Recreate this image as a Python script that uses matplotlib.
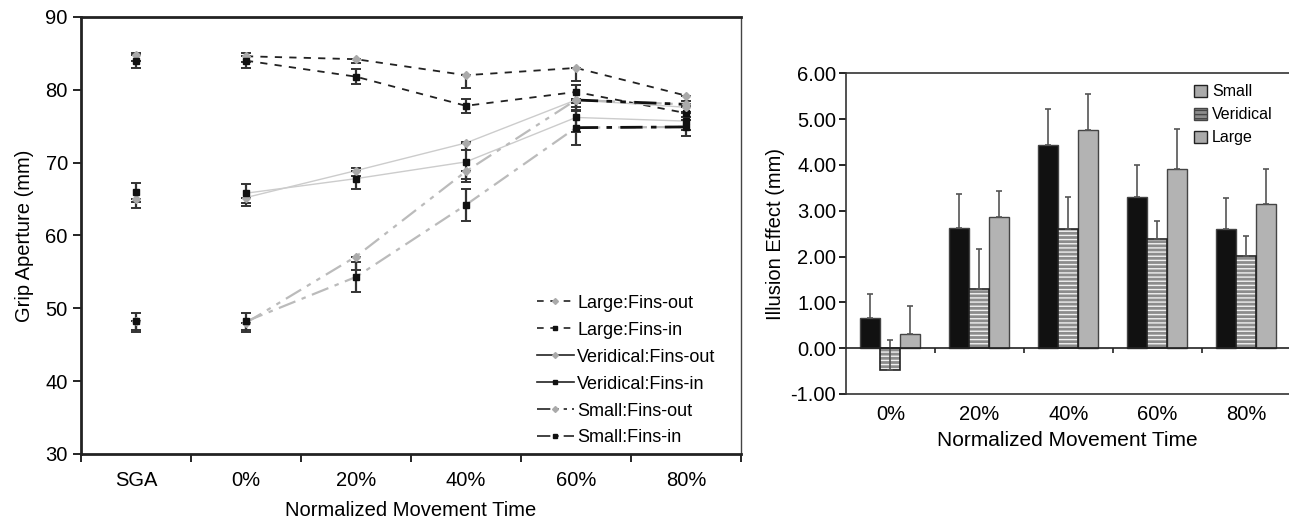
import numpy as np
import matplotlib
matplotlib.use('Agg')
import matplotlib.pyplot as plt
from matplotlib.lines import Line2D
from matplotlib.patches import Patch

plt.rcParams['font.family'] = ['Liberation Sans', 'DejaVu Sans']
plt.rcParams['hatch.linewidth'] = 1.0

# ==================== 左图: 抓握孔径 ====================
stages = ['SGA', '0%', '20%', '40%', '60%', '80%']
large_out = [84.8, 84.6, 84.2, 82.0, 83.0, 79.2]
large_in = [84.0, 84.0, 81.8, 77.8, 79.7, 76.8]
verid_out = [65.0, 65.2, 68.9, 72.7, 78.6, 77.6]
verid_in = [65.9, 65.8, 67.8, 70.1, 76.2, 75.7]
small_out = [48.3, 48.0, 57.1, 68.8, 78.6, 78.0]
small_in = [48.2, 48.2, 54.3, 64.2, 74.8, 74.9]

large_out_err = [0.8, 0.8, 0.5, 1.8, 1.8, 0.8]
large_in_err = [1.0, 1.0, 1.0, 1.0, 1.0, 1.0]
verid_out_err = [1.2, 1.2, 0.8, 1.0, 1.0, 0.8]
verid_in_err = [1.3, 1.3, 1.4, 2.7, 2.0, 1.2]
small_out_err = [1.5, 1.2, 1.8, 1.0, 1.5, 1.0]
small_in_err = [1.2, 1.2, 2.0, 2.2, 2.4, 1.3]

# ==================== 右图: 错觉效应 ====================
times = ['0%', '20%', '40%', '60%', '80%']
eff_small = [0.65, 2.63, 4.43, 3.31, 2.61]
eff_verid = [-0.48, 1.30, 2.60, 2.38, 2.01]
eff_large = [0.32, 2.86, 4.76, 3.92, 3.14]
eff_small_top = [1.18, 3.36, 5.23, 4.00, 3.28]
eff_verid_top = [0.17, 2.17, 3.31, 2.78, 2.45]
eff_large_top = [0.91, 3.43, 5.54, 4.78, 3.92]

fig = plt.figure(figsize=(12.89, 5.23), dpi=100)
ax = fig.add_axes([0.0628, 0.132, 0.512, 0.8356])

x = np.arange(len(stages))
FS_TICK = 14.5
FS_LAB = 14.5
FS_LEG = 13

series = [
    ('Large:Fins-out', large_out, large_out_err, 'out', (0, (4, 4)), '#222222', 1.3),
    ('Large:Fins-in', large_in, large_in_err, 'in', (0, (4, 4)), '#222222', 1.3),
    ('Veridical:Fins-out', verid_out, verid_out_err, 'out', '-', '#cccccc', 1.0),
    ('Veridical:Fins-in', verid_in, verid_in_err, 'in', '-', '#cccccc', 1.0),
    ('Small:Fins-out', small_out, small_out_err, 'out', (0, (8, 3, 2, 3, 2, 3)), '#bbbbbb', 1.6),
    ('Small:Fins-in', small_in, small_in_err, 'in', (0, (8, 3, 2, 3)), '#bbbbbb', 1.6),
]

handles = []
for label, vals, err, kind, ls, lc, lw in series:
    vals = np.array(vals)
    err = np.array(err)
    # 0%~80% 连线 (SGA 单独)
    ax.plot(x[1:], vals[1:], linestyle=ls, color=lc, linewidth=lw, zorder=2)
    if label.startswith('Small'):
        ax.plot(x[4:], vals[4:], linestyle=ls, color='#111111', linewidth=2.0, zorder=2)
    if kind == 'out':
        yerr = [err, np.zeros_like(err)]
        mk, mc, ms = 'D', '#aaaaaa', 4
    else:
        yerr = [err, err]
        mk, mc, ms = 's', '#111111', 4.5
    ax.errorbar(x, vals, yerr=yerr, fmt='none', ecolor='#333333',
                elinewidth=1.6, capsize=3.5, capthick=1.4, zorder=3)
    ax.plot(x, vals, linestyle='none', marker=mk, color=mc, markersize=ms, zorder=4)
    handles.append(Line2D([], [], linestyle=ls if label.startswith(('Large', 'Small')) else '-',
                          color='#222222', linewidth=1.2, marker=mk, markersize=3,
                          markerfacecolor=mc, markeredgecolor=mc, label=label))

ax.set_xlim(-0.5, len(stages) - 0.5)
ax.set_ylim(30, 90)
ax.set_yticks(np.arange(30, 91, 10))
ax.set_xticks(x)
ax.set_xticklabels(stages, fontsize=FS_TICK)
ax.set_xticks(np.arange(-0.5, len(stages)), minor=True)
ax.tick_params(axis='x', which='major', length=0, pad=12)
ax.tick_params(axis='x', which='minor', length=6, width=1.2, direction='out')
ax.tick_params(axis='y', labelsize=FS_TICK, length=6, width=1.2, direction='out')
for s in ax.spines.values():
    s.set_linewidth(1.0)
    s.set_color('#444444')
for s in ['left', 'bottom', 'top']:
    ax.spines[s].set_linewidth(2.0)
    ax.spines[s].set_color('#222222')
ax.set_xlabel('Normalized Movement Time', fontsize=FS_LAB, labelpad=8)
ax.set_ylabel('Grip Aperture (mm)', fontsize=FS_LAB, labelpad=8)
ax.legend(handles=handles, loc='lower left', bbox_to_anchor=(0.667, -0.02),
          frameon=False, fontsize=FS_LEG, handlelength=2.0, handletextpad=0.2,
          labelspacing=0.55)

# ==================== 右图 ====================
ax2 = fig.add_axes([0.6563, 0.2467, 0.3437, 0.6132])
xt = np.arange(len(times))
w = 0.225
edge = '#444444'

ax2.bar(xt - w, eff_small, w, color='#111111', edgecolor=edge, linewidth=1, zorder=2)
ax2.bar(xt, eff_verid, w, color='#8c8c8c', edgecolor='#f0f0f0', hatch='----',
        linewidth=0, zorder=2)
ax2.bar(xt, eff_verid, w, color='none', edgecolor='#222222', linewidth=1.2, zorder=3)
ax2.bar(xt + w, eff_large, w, color='#b3b3b3', edgecolor=edge, linewidth=1, zorder=2)

for off, vals, tops in [(-w, eff_small, eff_small_top),
                        (0, eff_verid, eff_verid_top),
                        (w, eff_large, eff_large_top)]:
    vals = np.array(vals)
    up = np.array(tops) - vals
    ax2.errorbar(xt + off, vals, yerr=[np.zeros_like(up), up], fmt='none',
                 ecolor='#555555', elinewidth=1.2, capsize=2.5, capthick=1.2, zorder=4)

ax2.axhline(0, color='#222222', linewidth=1.2, zorder=5)
ax2.vlines(np.arange(0.5, len(times) - 0.5), -0.1, 0, color='#222222', linewidth=1.2, zorder=5)
ax2.set_xlim(-0.5, len(times) - 0.52)
ax2.set_ylim(-1, 6)
ax2.set_yticks(np.arange(-1, 6.1, 1))
ax2.set_yticklabels([f'{v:.2f}' for v in np.arange(-1, 6.1, 1)], fontsize=FS_TICK)
ax2.set_xticks(xt)
ax2.set_xticklabels(times, fontsize=FS_TICK)
ax2.tick_params(axis='x', length=0, pad=8)
ax2.tick_params(axis='y', length=5, width=1.2, direction='out', pad=2)
ax2.spines['right'].set_visible(False)
for s in ['left', 'bottom', 'top']:
    ax2.spines[s].set_color('#333333')
    ax2.spines[s].set_linewidth(1.2)
ax2.set_xlabel('Normalized Movement Time', fontsize=15, labelpad=5)
ax2.set_ylabel('Illusion Effect (mm)', fontsize=FS_LAB, labelpad=4)

leg_handles = [
    Patch(facecolor='#aaaaaa', edgecolor='#222222', label='Small'),
    Patch(facecolor='#8c8c8c', edgecolor='#444444', hatch='----', label='Veridical'),
    Patch(facecolor='#aaaaaa', edgecolor='#222222', label='Large'),
]
ax2.legend(handles=leg_handles, loc='upper right', bbox_to_anchor=(0.995, 1.01),
           frameon=False, fontsize=11.5, handlelength=0.8, handleheight=0.8,
           handletextpad=0.3, labelspacing=0.5)

fig.savefig('out.png', dpi=100, facecolor='white')
